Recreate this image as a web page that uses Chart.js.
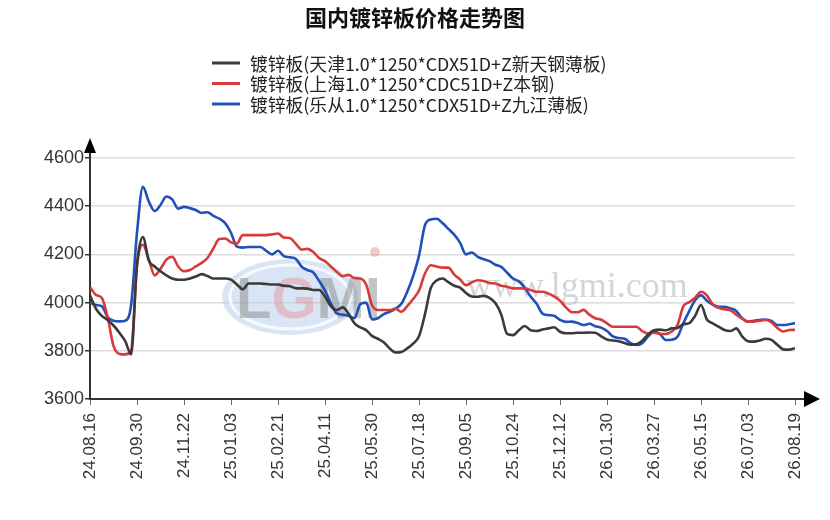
<!DOCTYPE html>
<html>
<head>
<meta charset="utf-8">
<script src="https://cdn.jsdelivr.net/npm/chart.js@4/dist/chart.umd.min.js"></script>
<style>
  html, body { margin: 0; padding: 0; background: #fff; }
</style>
</head>
<body>
<canvas id="chart" width="830" height="520"></canvas>
<script>
// labelled dates on the x axis, one every 8 samples
const dates = ['24.08.16', '24.09.30', '24.11.22', '25.01.03', '25.02.21', '25.04.11', '25.05.30', '25.07.18',
  '25.09.05', '25.10.24', '25.12.12', '26.01.30', '26.03.27', '26.05.15', '26.07.03', '26.08.19'];
const samplesPerDate = 8;

const chartTitle = '国内镀锌板价格走势图';
const seriesNames = [
  '镀锌板(天津1.0*1250*CDX51D+Z新天钢薄板)',
  '镀锌板(上海1.0*1250*CDC51D+Z本钢)',
  '镀锌板(乐从1.0*1250*CDX51D+Z九江薄板)'
];

const tianjin = [
  4030, 3975, 3945, 3928, 3905, 3875, 3840, 3785, 4160, 4272, 4175, 4150, 4130, 4113, 4100, 4095,
  4095, 4100, 4108, 4118, 4110, 4100, 4100, 4100, 4095, 4075, 4055, 4079, 4079, 4079, 4077, 4075,
  4075, 4070, 4068, 4060, 4059, 4058, 4052, 4052, 4025, 3985, 3969, 3980, 3955, 3915, 3897, 3886,
  3862, 3850, 3835, 3810, 3793, 3795, 3810, 3830, 3860, 3950, 4060, 4092, 4100, 4085, 4070, 4062,
  4040, 4025, 4024, 4028, 4020, 3998, 3950, 3870, 3865, 3885, 3903, 3885, 3882, 3888, 3893, 3898,
  3879, 3873, 3873, 3875, 3875, 3876, 3875, 3860, 3847, 3843, 3840, 3832, 3825, 3827, 3842, 3868,
  3885, 3888, 3885, 3893, 3895, 3910, 3915, 3945, 3990, 3930, 3914, 3900, 3886, 3882, 3893, 3860,
  3840, 3838, 3843, 3850, 3845, 3825, 3806, 3805, 3811
];

const shanghai = [
  4065, 4032, 4020, 3940, 3820, 3787, 3785, 3800, 4150, 4240, 4180, 4113, 4140, 4178, 4190, 4150,
  4130, 4135, 4150, 4165, 4185, 4225, 4264, 4266, 4250, 4245, 4280, 4280, 4280, 4280, 4280, 4283,
  4287, 4270, 4268, 4245, 4220, 4223, 4210, 4185, 4172, 4150, 4128, 4110, 4115, 4102, 4100, 4075,
  3990, 3969, 3969, 3969, 3975, 3962, 3985, 4015, 4050, 4120, 4155, 4150, 4145, 4145, 4116, 4096,
  4072, 4084, 4093, 4090, 4081, 4079, 4070, 4066, 4059, 4059, 4059, 4052, 4045, 4045, 4038, 4026,
  4008, 3980, 3960, 3960, 3970, 3950, 3935, 3929, 3914, 3900, 3900, 3900, 3900, 3900, 3882, 3872,
  3875, 3870, 3870, 3880, 3907, 3985, 4002, 4020, 4045, 4030, 3992, 3978, 3972, 3968, 3950, 3933,
  3921, 3921, 3925, 3928, 3918, 3895, 3880, 3886, 3887
];

const lecong = [
  4000, 3990, 3985, 3940, 3925, 3922, 3925, 3990, 4290, 4480, 4420, 4380, 4405, 4440, 4428, 4390,
  4397, 4392, 4384, 4372, 4375, 4360, 4348, 4330, 4290, 4232, 4228, 4231, 4231, 4231, 4215, 4200,
  4215, 4193, 4188, 4182, 4150, 4135, 4125, 4090, 4050, 3998, 3955, 3950, 3945, 3935, 3993, 4000,
  3930, 3935, 3952, 3962, 3975, 3995, 4045, 4110, 4195, 4320, 4345, 4348, 4330, 4306, 4282, 4248,
  4200, 4208, 4190, 4180, 4172, 4157, 4148, 4124, 4100, 4088, 4062, 4025, 3996, 3955, 3948, 3945,
  3928, 3920, 3921, 3915, 3907, 3912, 3902, 3896, 3882, 3860, 3853, 3850, 3832, 3824, 3832, 3860,
  3880, 3870, 3845, 3846, 3858, 3915, 3965, 4010, 4030, 4008, 3992, 3983, 3983, 3976, 3965, 3935,
  3921, 3925, 3928, 3930, 3924, 3907, 3907, 3910, 3915
];

const toPoints = arr => arr.map((v, i) => ({ x: i, y: v }));

// title + stacked legend, one row per series
const headerPlugin = {
  id: 'header',
  afterDraw(chart) {
    const ctx = chart.ctx;
    ctx.save();
    ctx.fillStyle = '#111';
    ctx.font = 'bold 22px "Noto Sans CJK SC"';
    ctx.textAlign = 'center';
    ctx.textBaseline = 'middle';
    ctx.fillText(chartTitle, 415, 18);

    ctx.font = '17.8px "Noto Sans CJK SC"';
    ctx.textAlign = 'left';
    chart.data.datasets.forEach((ds, i) => {
      const y = 63 + i * 20.5;
      ctx.strokeStyle = ds.borderColor;
      ctx.lineWidth = 3;
      ctx.beginPath();
      ctx.moveTo(212, y);
      ctx.lineTo(240, y);
      ctx.stroke();
      ctx.fillStyle = '#222';
      ctx.fillText(ds.label, 250, y + 1);
    });
    ctx.restore();
  }
};

// faint site watermark behind the lines
const watermark = {
  id: 'watermark',
  beforeDatasetsDraw(chart) {
    const ctx = chart.ctx;
    ctx.save();
    ctx.fillStyle = 'rgba(170, 198, 232, 0.45)';
    ctx.beginPath();
    ctx.ellipse(290, 297, 68, 38, 0, 0, Math.PI * 2);
    ctx.fill();
    ctx.strokeStyle = 'rgba(255, 255, 255, 0.8)';
    ctx.lineWidth = 3;
    ctx.beginPath();
    ctx.ellipse(290, 297, 60, 32, 0, 0, Math.PI * 2);
    ctx.stroke();

    ctx.font = 'bold 58px "Liberation Sans"';
    ctx.textBaseline = 'alphabetic';
    let x = 236;
    [['L', 'rgba(140,140,140,0.5)'], ['G', 'rgba(232,130,140,0.4)'],
     ['M', 'rgba(140,140,140,0.5)'], ['I', 'rgba(140,140,140,0.5)']].forEach(([ch, col]) => {
      ctx.fillStyle = col;
      ctx.fillText(ch, x, 318);
      x += ctx.measureText(ch).width;
    });
    ctx.fillStyle = 'rgba(232,130,140,0.45)';
    ctx.beginPath();
    ctx.arc(375, 252, 5, 0, Math.PI * 2);
    ctx.fill();

    ctx.font = '36px "Liberation Serif"';
    ctx.fillStyle = 'rgba(150,150,150,0.4)';
    ctx.fillText('www.lgmi.com', 466, 297);
    ctx.restore();
  }
};

const axisArrows = {
  id: 'axisArrows',
  afterDraw(chart) {
    const { ctx, chartArea: a } = chart;
    ctx.save();
    ctx.strokeStyle = '#333';
    ctx.fillStyle = '#000';
    ctx.lineWidth = 2;
    ctx.beginPath();
    ctx.moveTo(a.left, a.top);
    ctx.lineTo(a.left, a.top - 8);
    ctx.moveTo(a.right, a.bottom);
    ctx.lineTo(a.right + 12, a.bottom);
    ctx.stroke();
    ctx.beginPath();
    ctx.moveTo(a.left, a.top - 20);
    ctx.lineTo(a.left - 6, a.top - 5);
    ctx.lineTo(a.left + 6, a.top - 5);
    ctx.fill();
    ctx.beginPath();
    ctx.moveTo(a.right + 25, a.bottom);
    ctx.lineTo(a.right + 9, a.bottom - 8);
    ctx.lineTo(a.right + 9, a.bottom + 8);
    ctx.fill();
    ctx.restore();
  }
};

const line = (label, data, color) => ({
  label,
  data: toPoints(data),
  borderColor: color,
  backgroundColor: color,
  borderWidth: 2.6,
  pointRadius: 0,
  cubicInterpolationMode: 'monotone',
  fill: false
});

new Chart(document.getElementById('chart'), {
  type: 'line',
  data: {
    datasets: [
      line(seriesNames[0], tianjin, '#3a3a3a'),
      line(seriesNames[1], shanghai, '#d83a3c'),
      line(seriesNames[2], lecong, '#2150b8')
    ]
  },
  options: {
    responsive: false,
    animation: false,
    layout: { padding: { top: 158, right: 35, left: 0, bottom: 0 } },
    plugins: {
      legend: { display: false },
      title: { display: false },
      tooltip: { enabled: false }
    },
    scales: {
      x: {
        type: 'linear',
        min: 0,
        max: (dates.length - 1) * samplesPerDate,
        afterFit: s => { s.height = 121; },
        ticks: {
          stepSize: samplesPerDate,
          autoSkip: false,
          maxRotation: 90,
          minRotation: 90,
          padding: 8,
          color: '#333',
          font: { family: '"Liberation Sans"', size: 17 },
          callback: v => dates[v / samplesPerDate] ?? ''
        },
        grid: { drawOnChartArea: false, drawTicks: true, tickLength: 6, tickColor: '#666' },
        border: { color: '#333', width: 2 }
      },
      y: {
        min: 3600,
        max: 4600,
        afterFit: s => { s.width = 90; },
        ticks: {
          stepSize: 200,
          padding: 1,
          color: '#333',
          font: { family: '"Liberation Sans"', size: 18 },
          callback: v => String(v)
        },
        grid: { color: '#dcdcdc', lineWidth: 1.5, tickLength: 5, tickColor: '#333' },
        border: { color: '#333', width: 2 }
      }
    }
  },
  plugins: [watermark, headerPlugin, axisArrows]
});
</script>
</body>
</html>
